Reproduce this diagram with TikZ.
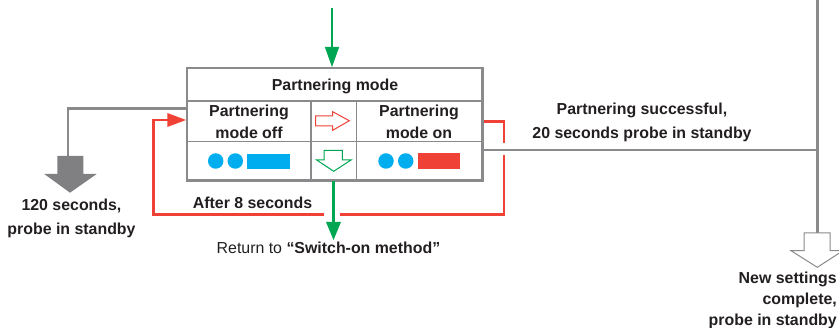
\documentclass[tikz,border=0pt]{standalone}
\usepackage{fontspec}
\setmainfont{Liberation Sans}
\definecolor{txt}{HTML}{231F20}
\definecolor{gry}{HTML}{8A8A8D}
\definecolor{gryfill}{HTML}{808083}
\definecolor{red1}{HTML}{EF4136}
\definecolor{grn}{HTML}{00A651}
\definecolor{cyn}{HTML}{00AEEF}
\tikzset{
  lbl/.style={font=\fontsize{15.9}{19}\selectfont\bfseries,text=txt,inner sep=0pt,anchor=base},
  lblplain/.style={font=\fontsize{15.9}{19}\selectfont,text=txt,inner sep=0pt,anchor=base},
  outer/.style={draw=gry,line width=2.8pt},
  inner/.style={draw=gry,line width=1.4pt},
  grayline/.style={draw=gry,line width=2.6pt},
  redline/.style={draw=red1,line width=2.6pt},
  greenline/.style={draw=grn,line width=2.8pt},
  dot/.style={circle,fill=cyn,draw=none,minimum size=15.5pt,inner sep=0pt},
}
\begin{document}
\begin{tikzpicture}[x=1pt,y=-1pt]
\useasboundingbox (0,0) rectangle (839,328);
\clip (0,0) rectangle (839,328);
% anchor coordinates
\coordinate (boxNW) at (187,68);
\coordinate (boxSE) at (482.5,180.5);
\coordinate (topIn) at (332,8);
\coordinate (topTip) at (332,67);
\coordinate (botOut) at (333.5,181);
\coordinate (botTip) at (333.5,240);
\coordinate (grayL) at (186,108.5);
\coordinate (grayCorner) at (68,108.5);
\coordinate (grayDown) at (68,157);
\coordinate (grayR) at (484,150);
\coordinate (grayJ) at (817.3,150);
\coordinate (grayTop) at (817.3,0);
\coordinate (grayEnd) at (817.3,233);
\coordinate (redStart) at (484,121.3);
\coordinate (redC1) at (504,121.3);
\coordinate (redGapT) at (504,143.5);
\coordinate (redGapB) at (504,155.5);
\coordinate (redC2) at (504,214.3);
\coordinate (redGapR) at (340,214.3);
\coordinate (redGapL) at (324,214.3);
\coordinate (redC3) at (153.3,214.3);
\coordinate (redC4) at (153.3,120);
\coordinate (redTip) at (186,120);
% box
\draw[inner] (187,101) -- (482.5,101);
\draw[inner] (187,141.3) -- (482.5,141.3);
\draw[inner] (311,101) -- (311,180.5);
\draw[inner] (356.3,101) -- (356.3,180.5);
\draw[outer] (boxNW) rectangle (boxSE);
% gray connectors
\draw[grayline] (grayL) -- (grayCorner) -- (grayDown);
\draw[grayline] (grayR) -- (grayJ);
\draw[grayline] (grayTop) -- (grayEnd);
\fill[gryfill] (57.3,156) -- (83.3,156) -- (83.3,174) -- (96.7,174) -- (70,192.7) -- (44.3,174) -- (57.3,174) -- cycle;
\draw[draw=gry,line width=1pt,fill=white] (804,233) -- (830,233) -- (830,250.7) -- (843,250.7) -- (817.3,267.3) -- (791,250.7) -- (804,250.7) -- cycle;
% red connector
\draw[redline] (redStart) -- (redC1) -- (redGapT);
\draw[redline] (redGapB) -- (redC2) -- (redGapR);
\draw[redline] (redGapL) -- (redC3) -- (redC4) -- (168,120);
\fill[red1] (redTip) -- (167.3,113) -- (167.3,127) -- cycle;
% green connectors
\draw[greenline] (topIn) -- (332,50);
\fill[grn] (topTip) -- (324.8,47) -- (339.2,47) -- cycle;
\draw[greenline] (botOut) -- (333.5,224);
\fill[grn] (botTip) -- (326,222) -- (341,222) -- cycle;
% small hollow arrows
\draw[draw=red1,line width=1pt,fill=white] (315.7,116) -- (332.7,116) -- (332.7,111.7) -- (349.3,120.7) -- (332.7,130.3) -- (332.7,126) -- (315.7,126) -- cycle;
\draw[draw=grn,line width=1pt,fill=white] (324,150.3) -- (342.3,150.3) -- (342.3,160) -- (351,160) -- (333.7,171.3) -- (316.7,160) -- (324,160) -- cycle;
% lights
\node[dot] (offA) at (215.7,161) {};
\node[dot] (offB) at (235.3,161) {};
\fill[cyn] (247.3,153.7) rectangle (289.7,168.7);
\node[dot] (onA) at (386,161) {};
\node[dot] (onB) at (405.7,161) {};
\fill[red1] (418,153.5) rectangle (460,168.7);
% labels
\node[lbl] (title) at (335,91) {Partnering mode};
\node[lbl] (offa) at (249,117) {Partnering};
\node[lbl] (offb) at (249,139) {mode off};
\node[lbl] (ona) at (419,117) {Partnering};
\node[lbl] (onb) at (419,139) {mode on};
\node[lbl] (after) at (252.5,209) {After 8 seconds};
\node[lbl] (succa) at (642,115) {Partnering successful,};
\node[lbl] (succb) at (642,139) {20 seconds probe in standby};
\node[lbl] (s120a) at (71.5,211) {120 seconds,};
\node[lbl] (s120b) at (71.5,235) {probe in standby};
\node[lblplain,anchor=base west] (ret) at (216.5,254) {Return to \textbf{“Switch-on method”}};
\node[lbl,anchor=base east] (newa) at (837,284) {New settings};
\node[lbl,anchor=base east] (newb) at (837,305) {complete,};
\node[lbl,anchor=base east] (newc) at (837,326) {probe in standby};
\end{tikzpicture}
\end{document}
